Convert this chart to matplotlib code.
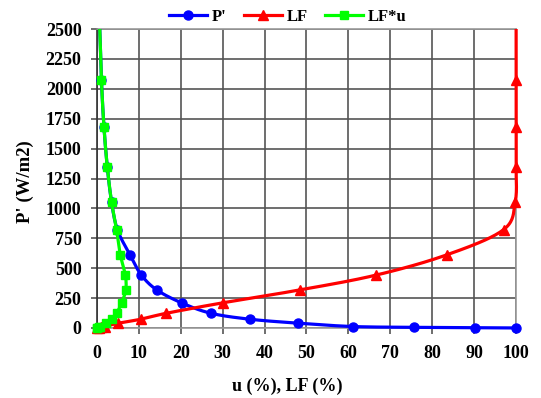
import numpy as np
import matplotlib
matplotlib.use('Agg')
import matplotlib.pyplot as plt
from matplotlib.transforms import Bbox, TransformedBbox

# P' values (W/m2), shared by all three series; the first point lies above the axis top
p_prime = [2600, 2070, 1680, 1345, 1056, 822, 612, 443, 318, 210, 123, 73, 40, 12, 5, 2, 0]
u_pct = [0.6, 1.1, 1.7, 2.5, 3.5, 4.9, 7.9, 10.6, 14.3, 20.2, 27.2, 36.5, 48.0, 61.0, 75.7, 90.1, 100.0]
lf_pct = [100.0, 100.0, 100.0, 100.0, 99.8, 97.0, 83.5, 66.7, 48.4, 30.0, 16.6, 10.5, 5.1, 2.0, 1.0, 0.5, 0.0]
lfu_pct = [0.6, 1.1, 1.7, 2.5, 3.5, 4.7, 5.6, 6.8, 6.9, 5.9, 4.7, 3.5, 2.3, 0.8, 0.4, 0.15, 0.0]

x_ticks = list(range(0, 101, 10))
y_ticks = list(range(0, 2501, 250))


def smooth(xs, ys, n=20):
    # catmull-rom curve through the points, like excel's smoothed line
    pts = np.column_stack([xs, ys]).astype(float)
    pts = np.vstack([pts[0], pts, pts[-1]])
    out = []
    for i in range(1, len(pts) - 2):
        p0, p1, p2, p3 = pts[i - 1], pts[i], pts[i + 1], pts[i + 2]
        t = np.linspace(0, 1, n, endpoint=False)[:, None]
        c = 0.5 * ((2 * p1) + (-p0 + p2) * t + (2 * p0 - 5 * p1 + 4 * p2 - p3) * t ** 2
                   + (-p0 + 3 * p1 - 3 * p2 + p3) * t ** 3)
        out.append(c)
    out.append(pts[-2][None, :])
    out = np.vstack(out)
    return out[:, 0], out[:, 1]


plt.rcParams['font.family'] = ['Liberation Serif', 'DejaVu Serif']
plt.rcParams['font.weight'] = 'bold'

fig = plt.figure(figsize=(5.41, 3.98), dpi=100)
ax = fig.add_axes([0.179, 0.176, 0.775, 0.751])

# clip only at the top so lines/markers on the edges stay whole
clip = TransformedBbox(Bbox([[-0.05, -0.05], [1.05, 1.0]]), ax.transAxes)

series = [
    (u_pct, "P'", '#0000FF', 'o', 6.5),
    (lf_pct, 'LF', '#FF0000', '^', 6.5),
    (lfu_pct, 'LF*u', '#00FF00', 's', 6),
]
for i, (xs, name, col, mk, ms) in enumerate(series):
    sx, sy = smooth(xs, p_prime)
    l1, = ax.plot(sx, sy, color=col, lw=2.3, zorder=3 + i)
    l2, = ax.plot(xs, p_prime, ls='none', marker=mk, ms=ms, color=col, zorder=3 + i)
    l1.set_clip_box(clip)
    l2.set_clip_box(clip)
    ax.plot([], [], color=col, lw=2.3, marker=mk, ms=ms, label=name)

ax.set_xlim(0, 100)
ax.set_ylim(0, 2500)
ax.set_xticks(x_ticks)
ax.set_yticks(y_ticks)
ax.grid(True, color='#555555', lw=1.2)
ax.set_axisbelow(True)
for s in ax.spines.values():
    s.set_color('#999999')
    s.set_linewidth(1.2)
ax.spines['left'].set_color('#333333')
ax.tick_params(direction='out', length=4, width=1.2, color='#555555', labelsize=13)
ax.tick_params(axis='x', pad=8)
ax.tick_params(axis='y', pad=7)
ax.set_xlabel('u (%), LF (%)', fontsize=13, fontweight='bold')
ax.xaxis.set_label_coords(0.453, -0.165)
ax.set_ylabel("P' (W/m2)", fontsize=13.5, fontweight='bold')
ax.yaxis.set_label_coords(-0.15, 0.49)

fig.legend(loc='center', bbox_to_anchor=(0.532, 0.958), ncol=3, frameon=False,
           fontsize=12, handlelength=2.3, columnspacing=1.0, handletextpad=0.3)

plt.savefig('out.png', dpi=100)
